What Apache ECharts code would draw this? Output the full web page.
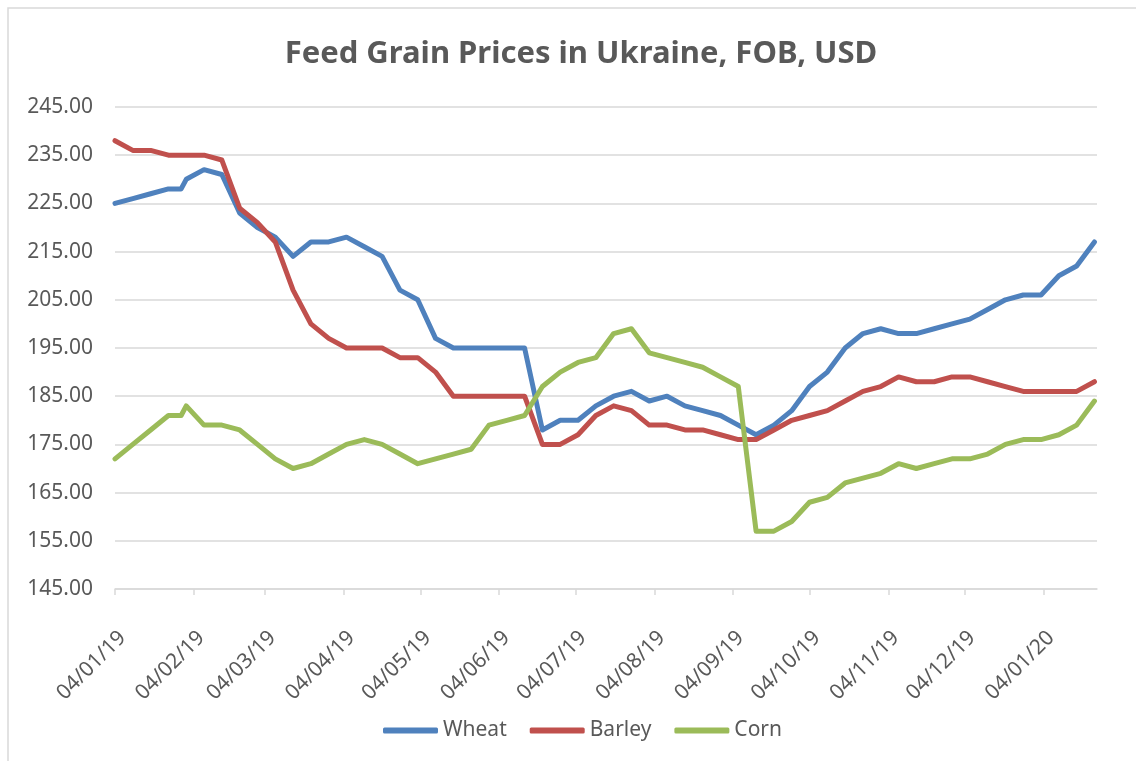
<!DOCTYPE html>
<html>
<head>
<meta charset="utf-8">
<script src="https://cdn.jsdelivr.net/npm/echarts@6/dist/echarts.min.js"></script>
<style>
html,body{margin:0;padding:0;background:#fff;}
#chart{width:1136px;height:761px;}
</style>
</head>
<body>
<div id="chart"></div>
<script>
// ---- data ----
const dates = [
  '2019-01-04','2019-01-11','2019-01-18','2019-01-25','2019-01-30','2019-02-01','2019-02-08','2019-02-15','2019-02-22',
  '2019-03-01','2019-03-08','2019-03-15','2019-03-22','2019-03-29','2019-04-05','2019-04-12','2019-04-19','2019-04-26',
  '2019-05-03','2019-05-10','2019-05-17','2019-05-24','2019-05-31','2019-06-07','2019-06-14','2019-06-21','2019-06-28',
  '2019-07-05','2019-07-12','2019-07-19','2019-07-26','2019-08-02','2019-08-09','2019-08-16','2019-08-23','2019-08-30',
  '2019-09-06','2019-09-13','2019-09-20','2019-09-27','2019-10-04','2019-10-11','2019-10-18','2019-10-25',
  '2019-11-01','2019-11-08','2019-11-15','2019-11-22','2019-11-29','2019-12-06','2019-12-13','2019-12-20','2019-12-27',
  '2020-01-03','2020-01-10','2020-01-17','2020-01-24'
];
const wheat = [
  225,226,227,228,228,230,232,231,223,
  220,218,214,217,217,218,216,214,207,
  205,197,195,195,195,195,195,178,180,
  180,183,185,186,184,185,183,182,181,
  179,177,179,182,187,190,195,198,
  199,198,198,199,200,201,203,205,206,
  206,210,212,217
];
const barley = [
  238,236,236,235,235,235,235,234,224,
  221,217,207,200,197,195,195,195,193,
  193,190,185,185,185,185,185,175,175,
  177,181,183,182,179,179,178,178,177,
  176,176,178,180,181,182,184,186,
  187,189,188,188,189,189,188,187,186,
  186,186,186,188
];
const corn = [
  172,175,178,181,181,183,179,179,178,
  175,172,170,171,173,175,176,175,173,
  171,172,173,174,179,180,181,187,190,
  192,193,198,199,194,193,192,191,189,
  187,157,157,159,163,164,167,168,
  169,171,170,171,172,172,173,175,176,
  176,177,179,184
];
const tickDates = [
  '2019-01-04','2019-02-04','2019-03-04','2019-04-04','2019-05-04','2019-06-04','2019-07-04',
  '2019-08-04','2019-09-04','2019-10-04','2019-11-04','2019-12-04','2020-01-04'
];
const yTicks = [145,155,165,175,185,195,205,215,225,235,245];
const xRange = ['2019-01-04','2020-01-25'];
const seriesNames = ['Wheat','Barley','Corn'];
const colors = ['#4F81BD','#C0504D','#9BBB59'];

// ---- helpers ----
function ts(s){const p=s.split('-').map(Number);return Date.UTC(p[0],p[1]-1,p[2]);}
function pad(n){return (n<10?'0':'')+n;}
function fmt(v){const d=new Date(v);return pad(d.getUTCDate())+'/'+pad(d.getUTCMonth()+1)+'/'+pad(d.getUTCFullYear()%100);}
const xs = dates.map(ts);
const seriesData = [wheat,barley,corn];
const FONT = '"Noto Sans", "Open Sans", sans-serif';
const TXT = '#595959';

const chart = echarts.init(document.getElementById('chart'), null, {renderer:'canvas'});
chart.setOption({
  animation:false,
  backgroundColor:'#ffffff',
  graphic:[{type:'rect',shape:{x:8,y:8,width:1400,height:1000},style:{fill:'none',stroke:'#d9d9d9',lineWidth:1.5},silent:true,z:-1}],
  title:{
    text:'Feed Grain Prices in Ukraine, FOB, USD',
    left:576, textAlign:'center', top:34,
    textStyle:{fontFamily:FONT,fontSize:31,fontWeight:'bold',color:TXT}
  },
  legend:{
    data:seriesNames,
    left:378, top:715,
    icon:'roundRect', itemWidth:55, itemHeight:6, itemGap:23,
    textStyle:{fontFamily:FONT,fontSize:21,color:TXT}
  },
  grid:{left:115,right:39,top:107,bottom:172,containLabel:false},
  xAxis:{
    type:'value',
    min:ts(xRange[0]), max:ts(xRange[1]),
    axisLine:{show:true,lineStyle:{color:'#d9d9d9',width:1.5}},
    axisTick:{show:true,length:6,customValues:tickDates.map(ts),lineStyle:{color:'#d9d9d9',width:1.5}},
    splitLine:{show:false},
    axisLabel:{
      customValues:tickDates.map(ts),
      rotate:45, margin:38, align:'right', verticalAlign:'top',
      fontFamily:FONT,fontSize:21,color:TXT,
      formatter:function(v){return fmt(v);}
    }
  },
  yAxis:{
    type:'value', min:yTicks[0], max:yTicks[yTicks.length-1],
    axisLine:{show:false},
    axisTick:{show:false,customValues:yTicks},
    splitLine:{show:true,lineStyle:{color:'#d9d9d9',width:1.5}},
    axisLabel:{
      customValues:yTicks, margin:22,
      fontFamily:FONT,fontSize:21,color:TXT,
      formatter:function(v){return v.toFixed(2);}
    }
  },
  series:seriesNames.map(function(n,i){
    return {
      name:n, type:'line', showSymbol:false, symbol:'none',
      data:xs.map(function(x,k){return [x,seriesData[i][k]];}),
      itemStyle:{color:colors[i]},
      lineStyle:{color:colors[i],width:5,cap:'round',join:'round'}
    };
  })
});
</script>
</body>
</html>
